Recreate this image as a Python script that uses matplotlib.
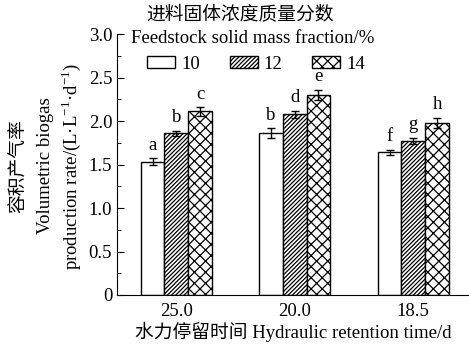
import numpy as np
import matplotlib.pyplot as plt
from matplotlib.patches import Patch
from matplotlib.ticker import MultipleLocator

plt.rcParams['font.family'] = ['Liberation Serif', 'Noto Sans CJK SC']
plt.rcParams['mathtext.fontset'] = 'custom'
plt.rcParams['mathtext.rm'] = 'Liberation Serif'
plt.rcParams['hatch.linewidth'] = 0.9

hrt = ['25.0', '20.0', '18.5']
series = ['10', '12', '14']
values = {
    '10': [1.53, 1.86, 1.64],
    '12': [1.86, 2.08, 1.77],
    '14': [2.11, 2.30, 1.98],
}
errors = {
    '10': [0.04, 0.06, 0.03],
    '12': [0.03, 0.04, 0.04],
    '14': [0.05, 0.06, 0.06],
}
letters = {
    '10': ['a', 'b', 'f'],
    '12': ['b', 'd', 'g'],
    '14': ['c', 'e', 'h'],
}
hatches = {'10': '', '12': '////////', '14': 'xxx'}

fs = 13.5
fig = plt.figure(figsize=(4.69, 3.46), dpi=100)
ax = fig.add_axes([0.2495, 0.1474, 0.7505, 0.7543])

x = np.arange(len(hrt))
w = 0.2
for k, s in enumerate(series):
    pos = x + (k - 1) * w
    ax.bar(pos, values[s], w, color='white', edgecolor='black', linewidth=1.0,
           hatch=hatches[s], zorder=2)
    ax.errorbar(pos, values[s], yerr=errors[s], fmt='none', ecolor='black',
                elinewidth=1.0, capsize=3, capthick=1.0, zorder=3)
    for p, v, e, t in zip(pos, values[s], errors[s], letters[s]):
        ax.text(p, v + e + 0.05, t, ha='center', va='bottom', fontsize=fs)

ax.set_xlim(-0.5, 2.47)
ax.set_ylim(0, 3.0)
ax.set_xticks(x)
ax.set_xticklabels(hrt, fontsize=fs)
ax.set_xticks(x - 1.5 * w, minor=True)
ax.yaxis.set_major_locator(MultipleLocator(0.5))
ax.yaxis.set_minor_locator(MultipleLocator(0.25))
ax.set_yticks(np.arange(0, 3.01, 0.5))
ax.set_yticklabels(['0', '0.5', '1.0', '1.5', '2.0', '2.5', '3.0'], fontsize=fs)
ax.tick_params(axis='both', which='both', direction='in')
ax.tick_params(axis='y', which='major', length=5)
ax.tick_params(axis='y', which='minor', length=3)
ax.tick_params(axis='x', which='major', length=4, pad=6)
ax.tick_params(axis='x', which='minor', length=5)
ax.spines['top'].set_visible(False)
ax.spines['right'].set_visible(False)

ax.set_xlabel('水力停留时间 Hydraulic retention time/d', fontsize=fs, labelpad=1)

fig.text(0.040, 0.52, '容积产气率', rotation=90, ha='center', va='center', fontsize=fs)
fig.text(0.096, 0.52, 'Volumetric biogas', rotation=90, ha='center', va='center', fontsize=fs)
fig.text(0.152, 0.52, r'production rate/(L·L$^{-1}$·d$^{-1}$)', rotation=90,
         ha='center', va='center', fontsize=fs)

fig.text(0.512, 0.955, '进料固体浓度质量分数', ha='center', va='center', fontsize=fs)
fig.text(0.279, 0.888, 'Feedstock solid mass fraction/%', ha='left', va='center', fontsize=fs)

handles = [Patch(facecolor='white', edgecolor='black', hatch=hatches[s], linewidth=1.0)
           for s in series]
fig.legend(handles, series, loc='center left', bbox_to_anchor=(0.314, 0.815), ncol=3,
           frameon=False, fontsize=fs, handlelength=1.5, handleheight=0.65,
           handletextpad=0.3, columnspacing=1.6, borderpad=0, borderaxespad=0)

fig.savefig('out.png', dpi=100)
